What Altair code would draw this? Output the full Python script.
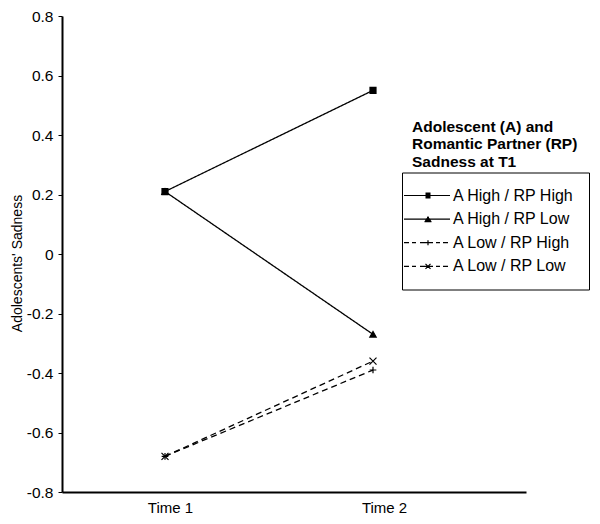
import json
import altair as alt
import pandas as pd

FONT = "Liberation Sans"

times = ["Time 1", "Time 2"]
series = ["A High / RP High", "A High / RP Low", "A Low / RP High", "A Low / RP Low"]
a_high_rp_high = [0.21, 0.55]
a_high_rp_low = [0.21, -0.27]
a_low_rp_high = [-0.68, -0.39]
a_low_rp_low = [-0.68, -0.36]
y_ticks = [-0.8, -0.6, -0.4, -0.2, 0, 0.2, 0.4, 0.6, 0.8]
legend_title = ["Adolescent (A) and", "Romantic Partner (RP)", "Sadness at T1"]
y_title = "Adolescents' Sadness"

rows = []
for name, vals in zip(series, [a_high_rp_high, a_high_rp_low, a_low_rp_high, a_low_rp_low]):
    for i, (t, v) in enumerate(zip(times, vals)):
        rows.append({"series": name, "time": t, "t": i + 1, "value": v})
df = pd.DataFrame(rows)

times_js = json.dumps(times).replace('"', "'")

x_enc = alt.X(
    "t:Q",
    scale=alt.Scale(domain=[0.5048, 2.7356], nice=False, zero=False),
    axis=alt.Axis(
        values=[1.024, 2.053],
        labelExpr=times_js + "[datum.value < 1.5 ? 0 : 1]",
        ticks=False, grid=False, domainColor="black", domainWidth=2,
        labelFontSize=15, labelFont=FONT, labelColor="black",
        labelPadding=8, title=None,
    ),
)
y_enc = alt.Y(
    "value:Q",
    scale=alt.Scale(domain=[-0.8, 0.8], nice=False, zero=False),
    axis=alt.Axis(
        values=y_ticks,
        labelExpr="datum.value == 0 ? '0' : (datum.value < 0 ? '-' : '') + format(abs(datum.value), '.1f')",
        grid=False, tickSize=4, tickColor="black", tickWidth=1,
        domainColor="black", domainWidth=2,
        labelFontSize=15.5, labelFont=FONT, labelColor="black", labelPadding=5,
        title=y_title, titleFontSize=14, titleFont=FONT, titleFontWeight="normal",
        titleColor="black", titleX=-38, titleY=247, titleAngle=270, titleBaseline="bottom",
        titleAlign="center",
    ),
)

base = alt.Chart(df)

lines = base.mark_line(strokeWidth=1.3, color="black").encode(
    x=x_enc, y=y_enc,
    strokeDash=alt.StrokeDash(
        "series:N",
        scale=alt.Scale(domain=series, range=[[1, 0], [1, 0], [6, 4], [6, 4]]),
        legend=None,
    ),
)

plus_path = "M-1,0H1M0,-1V1"
cross_path = "M-1,-1L1,1M-1,1L1,-1"

points = base.mark_point(filled=True, fill="black", stroke="black", strokeWidth=1.2, opacity=1).encode(
    x=x_enc, y=y_enc,
    shape=alt.Shape("series:N", scale=alt.Scale(domain=series, range=["square", "triangle-up", plus_path, cross_path]), legend=None),
    size=alt.Size("series:N", scale=alt.Scale(domain=series, range=[36, 49, 36, 56]), legend=None),
)

# legend glyphs (line + marker), drawn with strokes only; px relative to symbol origin, r = 5px
U = 5.0


def seg(x0, y0, x1, y1):
    return f"M{x0 / U:.3f},{y0 / U:.3f}L{x1 / U:.3f},{y1 / U:.3f}"


MC = 3  # marker centre
solid = seg(-21, 0, 25, 0)
dashed = (
    seg(MC - 24, 0, MC - 19, 0) + seg(MC - 16, 0, MC - 12, 0) + seg(MC - 8, 0, MC + 5, 0)
    + seg(MC + 8, 0, MC + 12, 0) + seg(MC + 15, 0, MC + 20, 0)
)
square_g = "".join(seg(MC - 2.5, y, MC + 2.5, y) for y in [-2.5, -1.5, -0.5, 0.5, 1.5, 2.5])
tri_g = "".join(
    seg(MC - 3.5 * (y + 3) / 5.5, y, MC + 3.5 * (y + 3) / 5.5, y)
    for y in [-3, -2.2, -1.4, -0.6, 0.2, 1.0, 1.8, 2.5]
)
plus_g = seg(MC, -2.5, MC, 2.5)
cross_g = seg(MC - 2.5, -2.5, MC + 2.5, 2.5) + seg(MC - 2.5, 2.5, MC + 2.5, -2.5)
leg_paths = [solid + square_g, solid + tri_g, dashed + plus_g, dashed + cross_g]

legend_layer = base.mark_point(filled=False, stroke="black", strokeWidth=1.2, opacity=1).encode(
    x=x_enc, y=y_enc,
    shape=alt.Shape(
        "series:N",
        scale=alt.Scale(domain=series, range=leg_paths),
        legend=alt.Legend(
            orient="none", legendX=340, legendY=156.5, title=None,
            strokeColor="black", padding=15, symbolSize=100,
            symbolStrokeWidth=1.2, symbolStrokeColor="black",
            labelFontSize=16, labelFont=FONT, labelColor="black",
            labelOffset=20, rowPadding=7.6, labelLimit=300,
        ),
    ),
).transform_filter("false")

title_text = alt.Chart(alt.Data(values=[{"label": "\n".join(legend_title)}])).mark_text(
    align="left", baseline="top", font=FONT, fontSize=15.5, fontWeight="bold",
    lineBreak="\n", lineHeight=17.5, color="black",
).encode(x=alt.value(350), y=alt.value(103.5), text="label:N")

chart = alt.layer(lines, points, legend_layer, title_text).resolve_scale(
    shape="independent"
).properties(
    width=464, height=476,
    autosize=alt.AutoSizeParams(type="none"),
    padding={"left": 54, "top": 8, "right": 66, "bottom": 24},
).configure_view(strokeWidth=0)

chart.save("out.html", embed_options={"renderer": "svg", "actions": False})
